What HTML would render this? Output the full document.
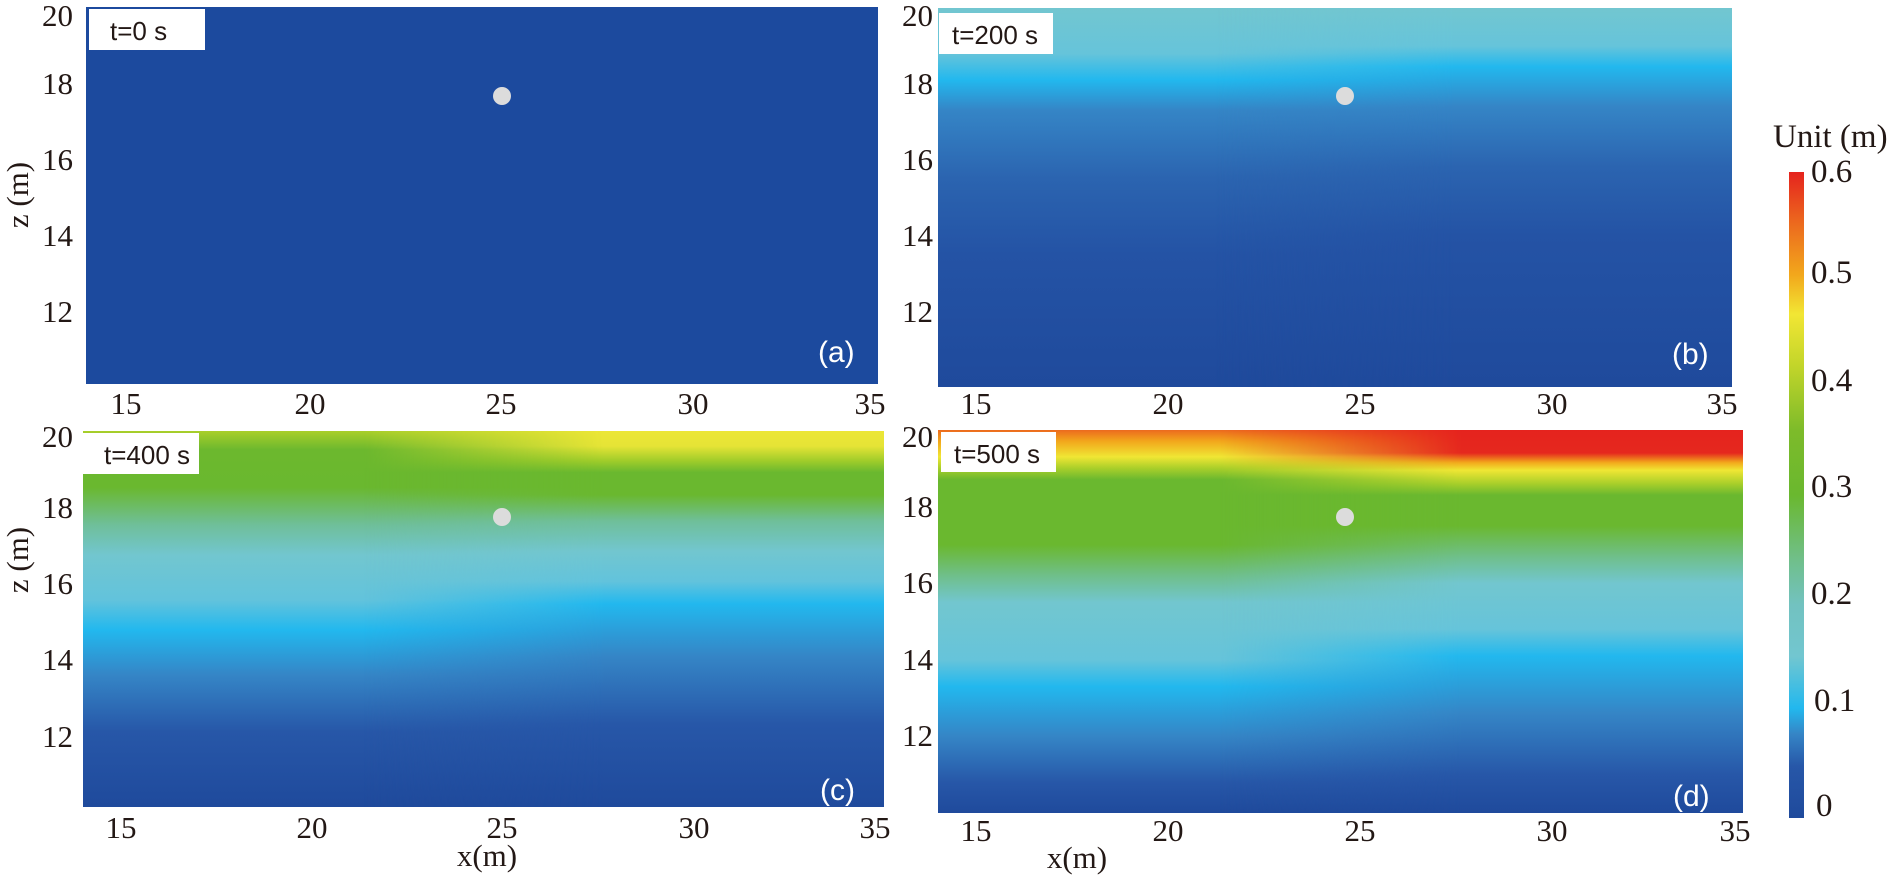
<!DOCTYPE html>
<html><head><meta charset="utf-8"><style>
html,body{margin:0;padding:0;background:#fff;}
svg{display:block}
.t{font-family:"Liberation Serif",serif;font-size:31px;fill:#231815}
.c{font-family:"Liberation Serif",serif;font-size:33px;fill:#231815}
.b{font-family:"Liberation Sans",sans-serif;font-size:26px;fill:#231815}
.p{font-family:"Liberation Sans",sans-serif;font-size:30px;fill:#fff}
</style></head><body>
<svg width="1897" height="875" viewBox="0 0 1897 875" xmlns="http://www.w3.org/2000/svg">
<defs>
<linearGradient id="hm" x1="0" y1="0" x2="1" y2="0"><stop offset="0" stop-color="#fff" stop-opacity="0"/><stop offset="0.35" stop-color="#fff" stop-opacity="0"/><stop offset="0.65" stop-color="#fff" stop-opacity="1"/><stop offset="1" stop-color="#fff" stop-opacity="1"/></linearGradient>
<mask id="mb" maskContentUnits="objectBoundingBox"><rect x="0" y="0" width="1" height="1" fill="url(#hm)"/></mask>
<linearGradient id="bL" x1="0" y1="0" x2="0" y2="1">
<stop offset="0" stop-color="#72c6d0"/><stop offset="0.12" stop-color="#66c4da"/><stop offset="0.19" stop-color="#22b8ee"/><stop offset="0.27" stop-color="#3585c6"/><stop offset="0.45" stop-color="#2b64b0"/><stop offset="0.65" stop-color="#2453a5"/><stop offset="1" stop-color="#1f4a9c"/></linearGradient>
<linearGradient id="bR" x1="0" y1="0" x2="0" y2="1">
<stop offset="0" stop-color="#72c6d0"/><stop offset="0.1" stop-color="#66c4da"/><stop offset="0.155" stop-color="#22b8ee"/><stop offset="0.26" stop-color="#3585c6"/><stop offset="0.42" stop-color="#2b64b0"/><stop offset="0.6" stop-color="#2453a5"/><stop offset="1" stop-color="#1f4a9c"/></linearGradient>
<linearGradient id="cL" x1="0" y1="0" x2="0" y2="1">
<stop offset="0" stop-color="#a9cf2a"/><stop offset="0.05" stop-color="#6cb82e"/><stop offset="0.15" stop-color="#6ab82f"/><stop offset="0.25" stop-color="#6fbf9a"/><stop offset="0.33" stop-color="#72c6cf"/><stop offset="0.45" stop-color="#62c3dc"/><stop offset="0.53" stop-color="#22b8ee"/><stop offset="0.65" stop-color="#3585c6"/><stop offset="0.8" stop-color="#2757a8"/><stop offset="1" stop-color="#1f4a9c"/></linearGradient>
<linearGradient id="cR" x1="0" y1="0" x2="0" y2="1">
<stop offset="0" stop-color="#ece636"/><stop offset="0.04" stop-color="#e6e436"/><stop offset="0.08" stop-color="#9fcc2a"/><stop offset="0.11" stop-color="#6ab82f"/><stop offset="0.17" stop-color="#6ab82f"/><stop offset="0.24" stop-color="#6fbf9a"/><stop offset="0.32" stop-color="#72c6cf"/><stop offset="0.4" stop-color="#62c3dc"/><stop offset="0.46" stop-color="#22b8ee"/><stop offset="0.6" stop-color="#3585c6"/><stop offset="0.78" stop-color="#2757a8"/><stop offset="1" stop-color="#1f4a9c"/></linearGradient>
<linearGradient id="dL" x1="0" y1="0" x2="0" y2="1">
<stop offset="0" stop-color="#ec6a1e"/><stop offset="0.03" stop-color="#f2a81c"/><stop offset="0.07" stop-color="#f0e634"/><stop offset="0.1" stop-color="#a9cf2a"/><stop offset="0.13" stop-color="#6ab82f"/><stop offset="0.3" stop-color="#6ab82f"/><stop offset="0.38" stop-color="#6fbf8a"/><stop offset="0.45" stop-color="#72c6cf"/><stop offset="0.6" stop-color="#66c4da"/><stop offset="0.67" stop-color="#22b8ee"/><stop offset="0.8" stop-color="#3585c6"/><stop offset="0.92" stop-color="#2757a8"/><stop offset="1" stop-color="#1f4a9c"/></linearGradient>
<linearGradient id="dR" x1="0" y1="0" x2="0" y2="1">
<stop offset="0" stop-color="#e5231e"/><stop offset="0.06" stop-color="#e5281e"/><stop offset="0.085" stop-color="#f2a81c"/><stop offset="0.105" stop-color="#f0e634"/><stop offset="0.14" stop-color="#a9cf2a"/><stop offset="0.17" stop-color="#6ab82f"/><stop offset="0.25" stop-color="#6ab82f"/><stop offset="0.33" stop-color="#6fbf8a"/><stop offset="0.4" stop-color="#72c6cf"/><stop offset="0.52" stop-color="#66c4da"/><stop offset="0.59" stop-color="#22b8ee"/><stop offset="0.74" stop-color="#3585c6"/><stop offset="0.9" stop-color="#2757a8"/><stop offset="1" stop-color="#1f4a9c"/></linearGradient>
<linearGradient id="cb" x1="0" y1="1" x2="0" y2="0">
<stop offset="0" stop-color="#1f4a9c"/><stop offset="0.08" stop-color="#2757a8"/><stop offset="0.13" stop-color="#3585c6"/><stop offset="0.17" stop-color="#22b8ee"/><stop offset="0.25" stop-color="#72c6d0"/><stop offset="0.33" stop-color="#72c2c0"/><stop offset="0.4" stop-color="#70bf8a"/><stop offset="0.5" stop-color="#6ab82f"/><stop offset="0.6" stop-color="#7dbb2a"/><stop offset="0.7" stop-color="#c2d52a"/><stop offset="0.78" stop-color="#f2e634"/><stop offset="0.84" stop-color="#f2a81c"/><stop offset="0.92" stop-color="#ec6a1e"/><stop offset="1" stop-color="#e5231e"/></linearGradient>
</defs>

<rect x="86" y="7" width="792" height="377" fill="#1c4a9e"/>
<rect x="938" y="8" width="794" height="379" fill="url(#bL)"/>
<rect x="938" y="8" width="794" height="379" fill="url(#bR)" mask="url(#mb)"/>
<rect x="83" y="431" width="801" height="376" fill="url(#cL)"/>
<rect x="83" y="431" width="801" height="376" fill="url(#cR)" mask="url(#mb)"/>
<rect x="938" y="430" width="805" height="383" fill="url(#dL)"/>
<rect x="938" y="430" width="805" height="383" fill="url(#dR)" mask="url(#mb)"/>

<circle cx="502" cy="96" r="9" fill="#dcdcdc"/>
<circle cx="1345" cy="96" r="9" fill="#dcdcdc"/>
<circle cx="502" cy="517" r="9" fill="#dcdcdc"/>
<circle cx="1345" cy="517" r="9" fill="#dcdcdc"/>

<rect x="89" y="9" width="116" height="41" fill="#fff"/><text class="b" x="110" y="40">t=0 s</text>
<rect x="939" y="13" width="114" height="41" fill="#fff"/><text class="b" x="952" y="44">t=200 s</text>
<rect x="83" y="433" width="116" height="41" fill="#fff"/><text class="b" x="104" y="464">t=400 s</text>
<rect x="941" y="432" width="115" height="40" fill="#fff"/><text class="b" x="954" y="463">t=500 s</text>

<text class="p" x="818" y="362">(a)</text>
<text class="p" x="1672" y="364">(b)</text>
<text class="p" x="820" y="800">(c)</text>
<text class="p" x="1673" y="806">(d)</text>

<g class="t" text-anchor="end">
<text x="73" y="26">20</text><text x="73" y="94">18</text><text x="73" y="170">16</text><text x="73" y="246">14</text><text x="73" y="322">12</text>
<text x="73" y="447">20</text><text x="73" y="518">18</text><text x="73" y="594">16</text><text x="73" y="670">14</text><text x="73" y="747">12</text>
<text x="933" y="26">20</text><text x="933" y="94">18</text><text x="933" y="170">16</text><text x="933" y="246">14</text><text x="933" y="322">12</text>
<text x="933" y="447">20</text><text x="933" y="517">18</text><text x="933" y="593">16</text><text x="933" y="670">14</text><text x="933" y="746">12</text>
</g>
<text class="t" transform="translate(28,195) rotate(-90)" text-anchor="middle">z (m)</text>
<text class="t" transform="translate(28,560) rotate(-90)" text-anchor="middle">z (m)</text>

<g class="t" text-anchor="middle">
<text x="126" y="414">15</text><text x="310" y="414">20</text><text x="501" y="414">25</text><text x="693" y="414">30</text><text x="870" y="414">35</text>
<text x="976" y="414">15</text><text x="1168" y="414">20</text><text x="1360" y="414">25</text><text x="1552" y="414">30</text><text x="1722" y="414">35</text>
<text x="121" y="838">15</text><text x="312" y="838">20</text><text x="502" y="838">25</text><text x="694" y="838">30</text><text x="875" y="838">35</text>
<text x="976" y="841">15</text><text x="1168" y="841">20</text><text x="1360" y="841">25</text><text x="1552" y="841">30</text><text x="1735" y="841">35</text>
<text x="487" y="866">x(m)</text>
<text x="1077" y="868">x(m)</text>
</g>

<rect x="1789" y="172" width="15" height="646" fill="url(#cb)"/>
<text class="c" x="1773" y="147">Unit (m)</text>
<g class="c">
<text x="1811" y="182">0.6</text><text x="1811" y="283">0.5</text><text x="1811" y="391">0.4</text><text x="1811" y="497">0.3</text><text x="1811" y="604">0.2</text><text x="1814" y="711">0.1</text><text x="1816" y="816">0</text>
</g>
</svg>
</body></html>
